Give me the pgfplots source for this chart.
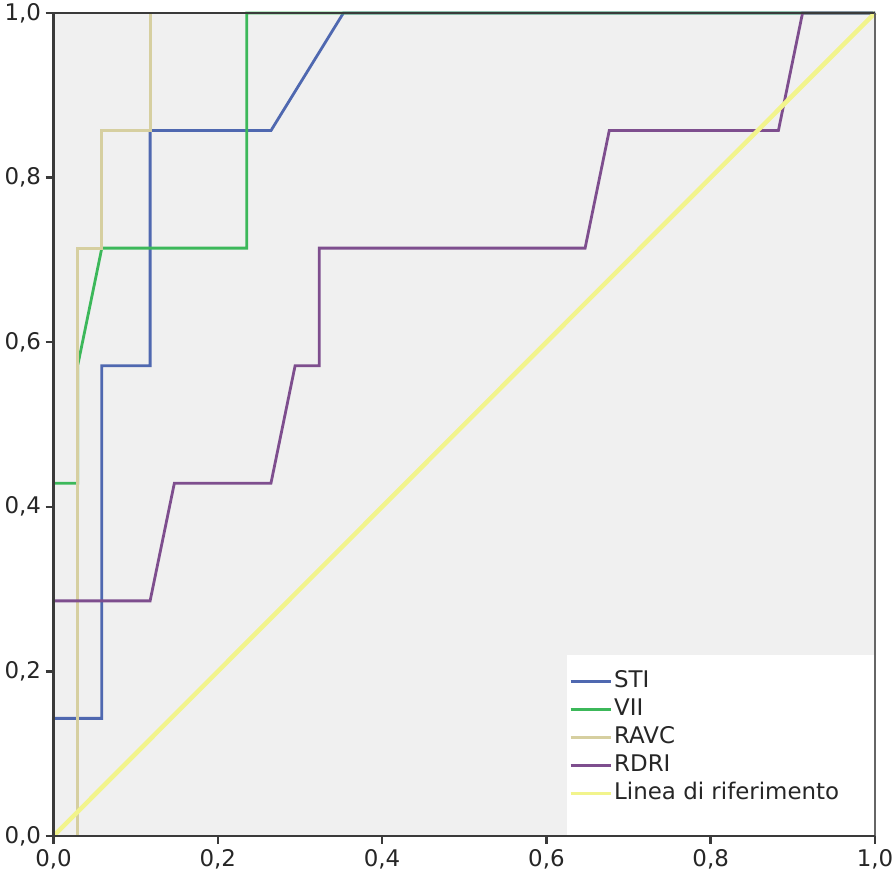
\documentclass[border=0pt]{standalone}
\usepackage{fontspec}
\setmainfont{DejaVu Sans}
\usepackage{pgfplots}
\pgfplotsset{compat=1.18}
\definecolor{bgc}{HTML}{F0F0F0}
\definecolor{frame}{HTML}{3A3A3A}
\definecolor{sti}{HTML}{4F68B0}
\definecolor{vii}{HTML}{3CB85A}
\definecolor{ravc}{HTML}{D6CFA0}
\definecolor{rdri}{HTML}{7E4E8E}
\definecolor{refl}{HTML}{F2F48C}
\begin{document}
\begin{tikzpicture}
\useasboundingbox (-53.5bp,-43bp) rectangle (840.5bp,836bp);
\begin{axis}[
  scale only axis,
  width=821.5bp, height=823bp,
  xmin=0, xmax=1, ymin=0, ymax=1,
  axis x line*=bottom, axis y line*=left,
  axis line style={-, line width=2.8bp, color=frame},
  axis background/.style={fill=bgc},
  axis on top,
  clip=false,
  xtick={0,0.2,0.4,0.6,0.8,1},
  ytick={0,0.2,0.4,0.6,0.8,1},
  tick align=outside,
  major tick length=8bp,
  tick style={line width=2.5bp, color=frame},
  /pgf/number format/assume math mode=true,
  /pgf/number format/use comma,
  /pgf/number format/fixed,
  /pgf/number format/fixed zerofill,
  /pgf/number format/precision=1,
  tick label style={font=\fontsize{23}{27}\selectfont, color=black!85},
  xticklabel style={yshift=-2bp},
  yticklabel style={xshift=-1bp},
  legend style={at={(rel axis cs:0.6275,0.2053)}, anchor=north west,
    fill=none, draw=none, inner sep=0pt, row sep=0pt,
    font=\fontsize{23}{27}\selectfont, text=black!85,
    nodes={inner sep=2bp, text height=18bp, text depth=6bp},
    cells={anchor=west}},
  legend image code/.code={\draw[#1, line width=3bp] plot coordinates {(0bp,0bp) (40bp,0bp)};},
]
\fill[white] (axis cs:0.625,0) rectangle (axis cs:1,0.22);
\addplot[sti, line width=2.8bp] coordinates {
(0,0) (0,0.1429) (0.0588,0.1429) (0.0588,0.5714) (0.1176,0.5714) (0.1176,0.8571) (0.2647,0.8571) (0.3529,1) (1,1)};
\addlegendentry{STI}
\addplot[vii, line width=2.8bp] coordinates {
(0,0) (0,0.4286) (0.0294,0.4286) (0.0294,0.5714) (0.0588,0.7143) (0.2353,0.7143) (0.2353,1) (1,1)};
\addlegendentry{VII}
\addplot[ravc, line width=2.8bp] coordinates {
(0,0) (0.0294,0) (0.0294,0.7143) (0.0588,0.7143) (0.0588,0.8571) (0.1176,0.8571) (0.1176,1) (1,1)};
\addlegendentry{RAVC}
\addplot[rdri, line width=2.8bp] coordinates {
(0,0) (0,0.2857) (0.1176,0.2857) (0.1471,0.4286) (0.2647,0.4286) (0.2941,0.5714) (0.3235,0.5714) (0.3235,0.7143) (0.6471,0.7143) (0.6765,0.8571) (0.8824,0.8571) (0.9118,1) (1,1)};
\addlegendentry{RDRI}
\addplot[refl, line width=4.5bp] coordinates {(0,0) (1,1)};
\addlegendentry{Linea di riferimento}
\draw[frame, line width=2.2bp] (rel axis cs:0,1) -- (rel axis cs:1,1);
\draw[black!60, line width=1.6bp] (rel axis cs:1,0) -- (rel axis cs:1,1);
\end{axis}
\end{tikzpicture}
\end{document}
